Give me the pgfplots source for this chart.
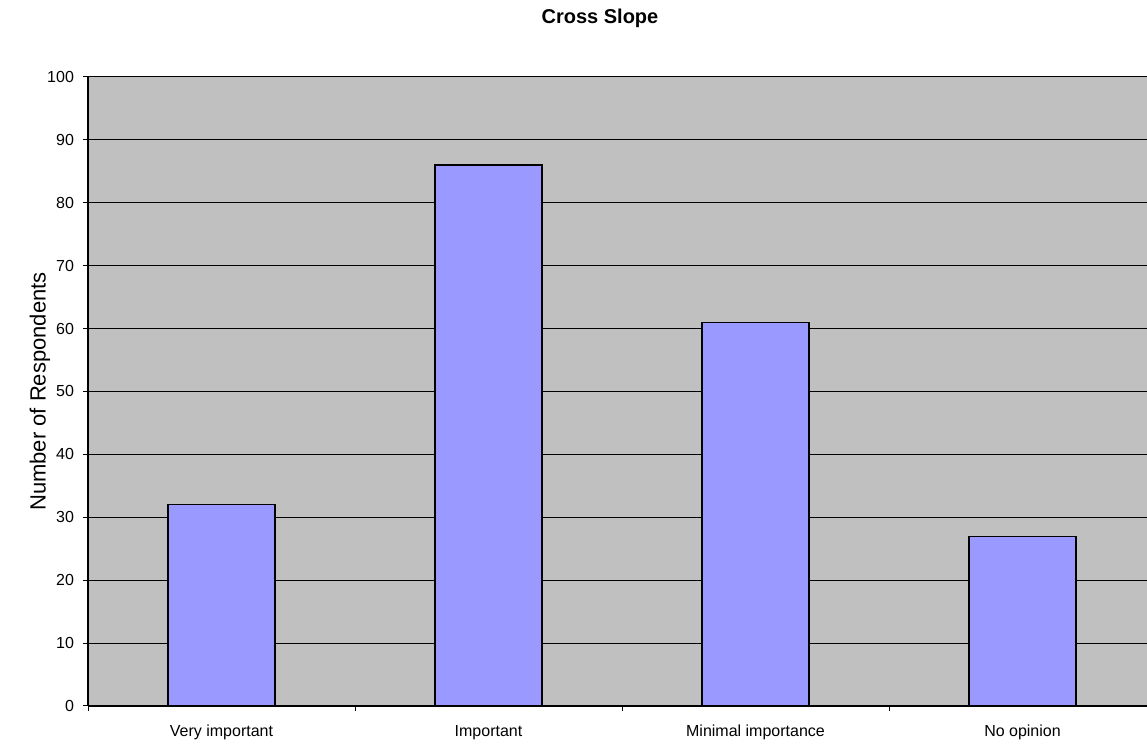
\documentclass[border=0pt]{standalone}
\usepackage{pgfplots}
\pgfplotsset{compat=1.18}
\usepackage{fontspec}
\setmainfont{Liberation Sans}
\definecolor{barblue}{HTML}{9999FF}
\definecolor{plotgray}{HTML}{C0C0C0}
\begin{document}
\begin{tikzpicture}
\useasboundingbox (0,0) rectangle (573.5pt,373.5pt);
\begin{axis}[
  at={(44pt,20.5pt)}, anchor=south west,
  scale only axis, width=534pt, height=314.5pt,
  xmin=-0.5, xmax=3.5, ymin=0, ymax=100,
  ytick={0,10,...,100},
  xtick={0,1,2,3},
  xticklabels={Very important,Important,Minimal importance,No opinion},
  minor xtick={-0.5,0.5,1.5,2.5,3.5},
  axis background/.style={fill=plotgray},
  axis lines*=left,
  axis line style={black, line width=0.6pt},
  ymajorgrids, major grid style={black, line width=0.5pt},
  tick align=outside,
  major tick length=2.5pt, minor tick length=2.5pt,
  x tick style={draw=none}, minor x tick style={draw=black},
  tick style={black, line width=0.5pt},
  ticklabel style={font=\fontsize{8}{9.6}\selectfont},
  /pgf/number format/assume math mode=true,
  yticklabel style={xshift=-1pt},
  xticklabel style={yshift=-3.5pt},
  clip=false,
]
\addplot[ybar, bar width=53.5pt, fill=barblue, draw=black, line width=0.6pt] coordinates {(0,32) (1,86) (2,61) (3,27)};
\end{axis}
\node[font=\fontsize{10}{12}\selectfont\bfseries] at (300pt,364.5pt) {Cross Slope};
\node[rotate=90, font=\fontsize{11}{13}\selectfont] at (20pt,177.75pt) {Number of Respondents};
\end{tikzpicture}
\end{document}
